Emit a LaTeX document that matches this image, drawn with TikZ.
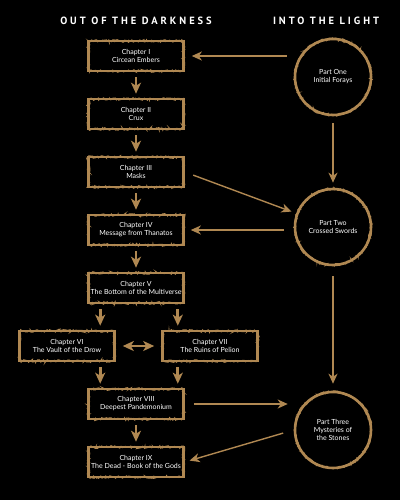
\documentclass[tikz,border=0pt]{standalone}
\usepackage{fontspec}
\setmainfont{Lato}
\newfontfamily\titlefont[LetterSpace=28]{PT Sans}
\usepackage{xcolor}
\definecolor{colorBronze}{RGB}{176,136,82}
\colorlet{colorLabel}{white}
\usetikzlibrary{arrows.meta, positioning, decorations.pathmorphing}
\tikzset{
  rough/.style={postaction={draw=colorBronze, line width=0.9pt, decorate, decoration={random steps, segment length=1.2pt, amplitude=1.4pt}}},
  chapter/.style={rectangle, draw=colorBronze, line width=2.6pt, rough, minimum width=95pt, minimum height=30pt, inner sep=1pt, text=colorLabel, align=center, font=\fontsize{7}{8}\selectfont},
  part/.style={circle, draw=colorBronze, line width=2.6pt, rough, minimum size=76pt, inner sep=1pt, text=colorLabel, align=center, font=\fontsize{7}{8}\selectfont},
  flow/.style={-{Stealth[length=11pt, width=10pt, inset=3pt]}, line width=2.8pt, colorBronze, shorten <=5pt, shorten >=4pt},
  link/.style={-{Stealth[length=10pt, width=9pt, inset=3pt]}, line width=1.4pt, colorBronze},
  heading/.style={text=colorLabel, font=\titlefont\bfseries\fontsize{10.5}{12}\selectfont}
}
\begin{document}
\begin{tikzpicture}[x=1pt, y=-1pt, node distance=58pt]
\fill[black] (0,0) rectangle (400,500);
\useasboundingbox (0,0) rectangle (400,500);
\node[heading] (t1) at (136,21) {OUT OF THE DARKNESS};
\node[heading] (t2) at (326,21) {INTO THE LIGHT};
\node[chapter] (ch1) at (136,56) {Chapter I\\Circean Embers};
\node[chapter, below of=ch1] (ch2) {Chapter II\\Crux};
\node[chapter, below of=ch2] (ch3) {Chapter III\\Masks};
\node[chapter, below of=ch3] (ch4) {Chapter IV\\Message from Thanatos};
\node[chapter, below of=ch4] (ch5) {Chapter V\\The Bottom of the Multiverse};
\node[chapter, below of=ch5, xshift=-69pt] (ch6) {Chapter VI\\The Vault of the Drow};
\node[chapter, below of=ch5, xshift=74pt] (ch7) {Chapter VII\\The Ruins of Pelion};
\node[chapter, below of=ch5, node distance=116pt] (ch8) {Chapter VIII\\Deepest Pandemonium};
\node[chapter, below of=ch8] (ch9) {Chapter IX\\The Dead - Book of the Gods};
\node[part] (p1) at (333,77) {Part One\\Initial Forays};
\node[part] (p2) at (333,227) {Part Two\\Crossed Swords};
\node[part] (p3) at (333,430) {Part Three\\Mysteries of\\the Stones};
\draw[flow] (ch1) -- (ch2);
\draw[flow] (ch2) -- (ch3);
\draw[flow] (ch3) -- (ch4);
\draw[flow] (ch4) -- (ch5);
\draw[flow] ([xshift=13pt]ch5.south west) -- ([xshift=13pt]ch5.south west |- ch6.north);
\draw[flow] ([xshift=-7pt]ch5.south east) -- ([xshift=-7pt]ch5.south east |- ch7.north);
\draw[flow] ([xshift=13pt]ch8.north west |- ch6.south) -- ([xshift=13pt]ch8.north west);
\draw[flow] ([xshift=-7pt]ch8.north east |- ch7.south) -- ([xshift=-7pt]ch8.north east);
\draw[flow] (ch8) -- (ch9);
\draw[flow, {Stealth[length=11pt, width=10pt, inset=3pt]}-{Stealth[length=11pt, width=10pt, inset=3pt]}, shorten <=7pt, shorten >=7pt] (ch6) -- (ch7);
\draw[link, shorten <=7pt, shorten >=7pt] (ch1.east -| p1.west) -- (ch1.east);
\draw[link, shorten <=7pt, shorten >=5pt] (p1) -- (p2);
\draw[link, shorten <=9pt, shorten >=5pt] (ch3.east) -- (p2);
\draw[link, shorten <=10pt, shorten >=6pt] (ch4.east -| p2.west) -- (ch4.east);
\draw[link, shorten <=10pt, shorten >=7pt] (p2) -- (p3);
\draw[link, shorten <=9pt, shorten >=6pt] (ch8.east) -- (ch8.east -| p3.west);
\draw[link, shorten <=11pt, shorten >=5pt] (p3.west) -- (ch9.east);
\end{tikzpicture}
\end{document}
